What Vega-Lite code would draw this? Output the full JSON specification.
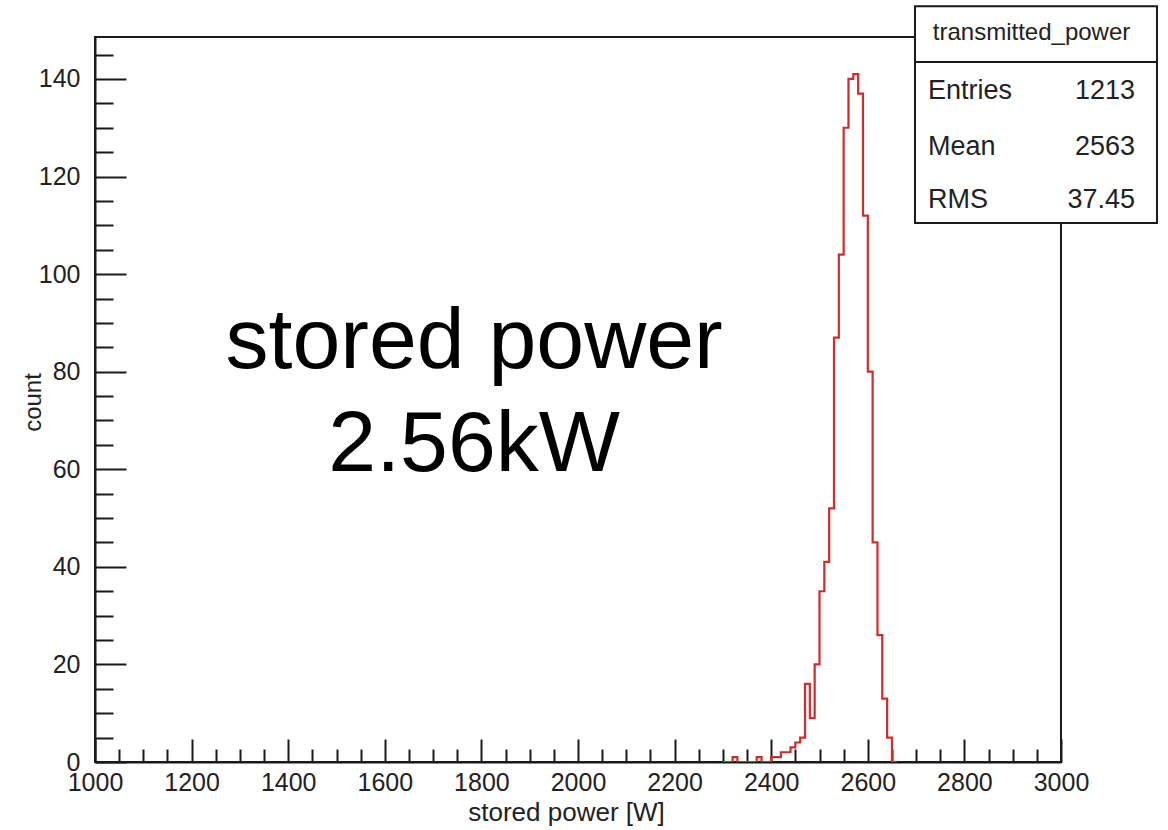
{
  "$schema": "https://vega.github.io/schema/vega-lite/v6.json",
  "width": 966,
  "height": 725,
  "autosize": {"type": "none"},
  "padding": {"left": 95, "top": 37, "right": 107, "bottom": 68},
  "background": "white",
  "config": {
    "view": {"stroke": "#1a1a1a", "strokeWidth": 2},
    "font": "Liberation Sans",
    "axis": {
      "domainColor": "#1a1a1a",
      "domainWidth": 2,
      "tickColor": "#1a1a1a",
      "tickWidth": 2,
      "tickCount": 200,
      "labelFont": "Liberation Sans",
      "labelFontSize": 25,
      "labelColor": "#222222",
      "labelOverlap": false,
      "labelFlush": false,
      "titleFont": "Liberation Sans",
      "titleFontWeight": "normal",
      "titleColor": "#222222",
      "grid": false,
      "zindex": 1
    }
  },
  "datasets": {
    "hist": [
      {"lo": 2300, "count": 0}, {"lo": 2310, "count": 0}, {"lo": 2320, "count": 1}, {"lo": 2330, "count": 0},
      {"lo": 2340, "count": 0}, {"lo": 2350, "count": 0}, {"lo": 2360, "count": 0}, {"lo": 2370, "count": 1},
      {"lo": 2380, "count": 0}, {"lo": 2390, "count": 0}, {"lo": 2400, "count": 1}, {"lo": 2410, "count": 1},
      {"lo": 2420, "count": 2}, {"lo": 2430, "count": 2}, {"lo": 2440, "count": 3}, {"lo": 2450, "count": 4},
      {"lo": 2460, "count": 5}, {"lo": 2470, "count": 16}, {"lo": 2480, "count": 9}, {"lo": 2490, "count": 20},
      {"lo": 2500, "count": 35}, {"lo": 2510, "count": 41}, {"lo": 2520, "count": 52}, {"lo": 2530, "count": 87},
      {"lo": 2540, "count": 104}, {"lo": 2550, "count": 130}, {"lo": 2560, "count": 140}, {"lo": 2570, "count": 141},
      {"lo": 2580, "count": 137}, {"lo": 2590, "count": 112}, {"lo": 2600, "count": 80}, {"lo": 2610, "count": 45},
      {"lo": 2620, "count": 26}, {"lo": 2630, "count": 13}, {"lo": 2640, "count": 5}, {"lo": 2650, "count": 0},
      {"lo": 2660, "count": 0}
    ]
  },
  "layer": [
    {
      "data": {"name": "hist"},
      "mark": {"type": "line", "interpolate": "step-after", "color": "#d02c2c", "strokeWidth": 2.2, "clip": true},
      "encoding": {
        "x": {
          "field": "lo", "type": "quantitative",
          "scale": {"domain": [1000, 3000], "nice": false, "zero": false},
          "axis": {
            "title": "stored power [W]",
            "titleFontSize": 26,
            "titleBaseline": "alphabetic",
            "titleY": 58,
            "titleX": 471,
            "titleAlign": "center",
            "format": "d",
            "tickCount": 200,
            "values": [1000,1050,1100,1150,1200,1250,1300,1350,1400,1450,1500,1550,1600,1650,1700,1750,1800,1850,1900,1950,2000,2050,2100,2150,2200,2250,2300,2350,2400,2450,2500,2550,2600,2650,2700,2750,2800,2850,2900,2950,3000],
            "labelExpr": "datum.value % 200 === 0 ? datum.label : ''",
            "tickSize": {"condition": {"test": "datum.value % 200 === 0", "value": -23}, "value": -13},
            "labelPadding": 31
          }
        },
        "y": {
          "field": "count", "type": "quantitative",
          "scale": {"domain": [0, 148.6], "nice": false},
          "axis": {
            "title": "count",
            "titleFontSize": 24,
            "titleBaseline": "alphabetic",
            "titleX": -55,
            "titleY": 365,
            "titleAngle": -90,
            "titleAlign": "center",
            "format": "d",
            "tickCount": 200,
            "values": [0,5,10,15,20,25,30,35,40,45,50,55,60,65,70,75,80,85,90,95,100,105,110,115,120,125,130,135,140,145],
            "labelExpr": "datum.value % 20 === 0 ? datum.label : ''",
            "tickSize": {"condition": {"test": "datum.value % 20 === 0", "value": -31}, "value": -18},
            "labelPadding": 46
          }
        }
      }
    },
    {
      "data": {"values": [{"label": "stored power"}]},
      "mark": {"type": "text", "fontSize": 86, "align": "center", "baseline": "alphabetic", "color": "#000000", "font": "Liberation Sans"},
      "encoding": {"x": {"datum": 1785}, "y": {"datum": 80.8}, "text": {"field": "label"}}
    },
    {
      "data": {"values": [{"label": "2.56kW"}]},
      "mark": {"type": "text", "fontSize": 86, "align": "center", "baseline": "alphabetic", "color": "#000000", "font": "Liberation Sans"},
      "encoding": {"x": {"datum": 1785}, "y": {"datum": 59.6}, "text": {"field": "label"}}
    },
    {
      "data": {"values": [{"box": "transmitted_power"}]},
      "mark": {"type": "rect", "fill": "white", "stroke": "#1a1a1a", "strokeWidth": 2, "clip": false},
      "encoding": {"x": {"datum": 2697.7}, "x2": {"datum": 3198.8}, "y": {"datum": 154.9}, "y2": {"datum": 110.5}}
    },
    {
      "data": {"values": [{"box": "transmitted_power"}]},
      "mark": {"type": "rule", "stroke": "#1a1a1a", "strokeWidth": 2, "clip": false},
      "encoding": {"x": {"datum": 2697.7}, "x2": {"datum": 3198.8}, "y": {"datum": 143.5}}
    },
    {
      "data": {"values": [{"label": "transmitted_power"}]},
      "mark": {"type": "text", "fontSize": 24, "align": "center", "baseline": "middle", "color": "#222222", "clip": false},
      "encoding": {"x": {"datum": 2939}, "y": {"datum": 149.4}, "text": {"field": "label"}}
    },
    {
      "data": {"values": [{"label": "Entries"}]},
      "mark": {"type": "text", "fontSize": 27, "align": "left", "baseline": "middle", "color": "#222222", "clip": false},
      "encoding": {"x": {"datum": 2724.6}, "y": {"datum": 137.6}, "text": {"field": "label"}}
    },
    {
      "data": {"values": [{"label": "1213"}]},
      "mark": {"type": "text", "fontSize": 27, "align": "right", "baseline": "middle", "color": "#222222", "clip": false},
      "encoding": {"x": {"datum": 3153.2}, "y": {"datum": 137.6}, "text": {"field": "label"}}
    },
    {
      "data": {"values": [{"label": "Mean"}]},
      "mark": {"type": "text", "fontSize": 27, "align": "left", "baseline": "middle", "color": "#222222", "clip": false},
      "encoding": {"x": {"datum": 2724.6}, "y": {"datum": 126.0}, "text": {"field": "label"}}
    },
    {
      "data": {"values": [{"label": "2563"}]},
      "mark": {"type": "text", "fontSize": 27, "align": "right", "baseline": "middle", "color": "#222222", "clip": false},
      "encoding": {"x": {"datum": 3153.2}, "y": {"datum": 126.0}, "text": {"field": "label"}}
    },
    {
      "data": {"values": [{"label": "RMS"}]},
      "mark": {"type": "text", "fontSize": 27, "align": "left", "baseline": "middle", "color": "#222222", "clip": false},
      "encoding": {"x": {"datum": 2724.6}, "y": {"datum": 115.2}, "text": {"field": "label"}}
    },
    {
      "data": {"values": [{"label": "37.45"}]},
      "mark": {"type": "text", "fontSize": 27, "align": "right", "baseline": "middle", "color": "#222222", "clip": false},
      "encoding": {"x": {"datum": 3153.2}, "y": {"datum": 115.2}, "text": {"field": "label"}}
    }
  ]
}
